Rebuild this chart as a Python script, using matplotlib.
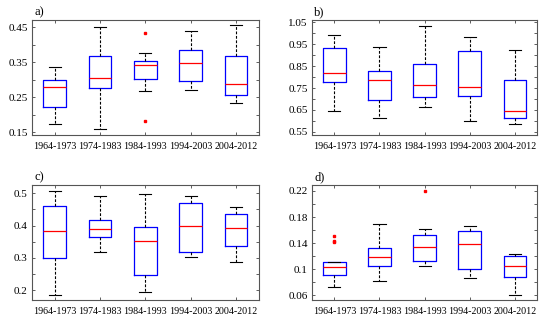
import matplotlib
matplotlib.use('Agg')
import matplotlib.pyplot as plt
import numpy as np

plt.rcParams['font.family'] = ['Liberation Serif', 'DejaVu Serif']

decades = ['1964-1973', '1974-1983', '1984-1993', '1994-2003', '2004-2012']

# panel a
a_lo = [0.175, 0.159, 0.269, 0.272, 0.234]
a_q1 = [0.221, 0.276, 0.303, 0.296, 0.258]
a_med = [0.279, 0.306, 0.342, 0.349, 0.287]
a_q3 = [0.300, 0.367, 0.355, 0.385, 0.369]
a_hi = [0.338, 0.451, 0.378, 0.440, 0.457]
a_out = [[], [], [0.434, 0.183], [], []]

# panel b
b_lo = [0.643, 0.613, 0.663, 0.600, 0.588]
b_q1 = [0.780, 0.695, 0.710, 0.712, 0.613]
b_med = [0.820, 0.785, 0.766, 0.754, 0.645]
b_q3 = [0.934, 0.829, 0.859, 0.919, 0.785]
b_hi = [0.994, 0.936, 1.036, 0.984, 0.923]
b_out = [[], [], [], [], []]

# panel c
c_lo = [0.186, 0.318, 0.194, 0.302, 0.288]
c_q1 = [0.301, 0.364, 0.247, 0.318, 0.336]
c_med = [0.382, 0.388, 0.353, 0.398, 0.393]
c_q3 = [0.459, 0.418, 0.395, 0.468, 0.434]
c_hi = [0.507, 0.491, 0.496, 0.492, 0.458]
c_out = [[], [], [], [], []]

# panel d
d_lo = [0.073, 0.082, 0.105, 0.087, 0.061]
d_q1 = [0.092, 0.105, 0.113, 0.100, 0.088]
d_med = [0.104, 0.119, 0.134, 0.138, 0.105]
d_q3 = [0.111, 0.133, 0.152, 0.158, 0.120]
d_hi = [0.111, 0.169, 0.162, 0.166, 0.123]
d_out = [[0.151, 0.144, 0.142], [], [0.220], [], []]

panels = [
    ('a)', [a_lo, a_q1, a_med, a_q3, a_hi, a_out], (0.142, 0.471),
     [0.15, 0.25, 0.35, 0.45], ['0.15', '0.25', '0.35', '0.45'], [0.20, 0.30, 0.40]),
    ('b)', [b_lo, b_q1, b_med, b_q3, b_hi, b_out], (0.535, 1.061),
     [0.55, 0.65, 0.75, 0.85, 0.95, 1.05], ['0.55', '0.65', '0.75', '0.85', '0.95', '1.05'],
     [0.60, 0.70, 0.80, 0.90, 1.00]),
    ('c)', [c_lo, c_q1, c_med, c_q3, c_hi, c_out], (0.170, 0.525),
     [0.2, 0.3, 0.4, 0.5], ['0.2', '0.3', '0.4', '0.5'], [0.25, 0.35, 0.45]),
    ('d)', [d_lo, d_q1, d_med, d_q3, d_hi, d_out], (0.053, 0.229),
     [0.06, 0.10, 0.14, 0.18, 0.22], ['0.06', '0.1', '0.14', '0.18', '0.22'],
     [0.08, 0.12, 0.16, 0.20]),
]

rects = [
    [0.0582, 0.583, 0.412, 0.355],
    [0.567, 0.583, 0.410, 0.355],
    [0.0582, 0.074, 0.412, 0.355],
    [0.567, 0.074, 0.410, 0.355],
]

fig = plt.figure(figsize=(5.5, 3.24), dpi=100)

for (lab, vals, ylim, yt, ytl, ymin), r in zip(panels, rects):
    ax = fig.add_axes(r)
    lo, q1, med, q3, hi, out = vals
    stats = []
    for i in range(len(decades)):
        stats.append({'whislo': lo[i], 'q1': q1[i], 'med': med[i], 'q3': q3[i],
                      'whishi': hi[i], 'fliers': out[i]})
    ax.bxp(stats, positions=np.arange(1, 6), widths=0.5, capwidths=0.27,
           boxprops=dict(color='blue', lw=0.9),
           medianprops=dict(color='red', lw=0.9),
           whiskerprops=dict(color='black', lw=0.8, linestyle=(0, (2.5, 1.5))),
           capprops=dict(color='black', lw=0.8),
           flierprops=dict(marker='s', markersize=1.6, markerfacecolor='red',
                           markeredgecolor='red', linestyle='none'))
    ax.set_xlim(0.5, 5.5)
    ax.set_ylim(*ylim)
    ax.set_xticks(np.arange(1, 6))
    ax.set_xticklabels(decades, fontsize=7.2)
    ax.set_yticks(yt)
    ax.set_yticklabels(ytl, fontsize=8)
    ax.set_yticks(ymin, minor=True)
    ax.tick_params(which='both', direction='in', length=2.5, width=0.6,
                   top=True, right=True, pad=3, colors='#444444', labelcolor='black')
    ax.tick_params(axis='x', pad=5)
    for s in ax.spines.values():
        s.set_color('#555555')
        s.set_linewidth(0.8)
    ax.text(0.01, 1.015, lab, transform=ax.transAxes, fontsize=9, va='bottom', ha='left')

fig.savefig('out.png', dpi=100)
